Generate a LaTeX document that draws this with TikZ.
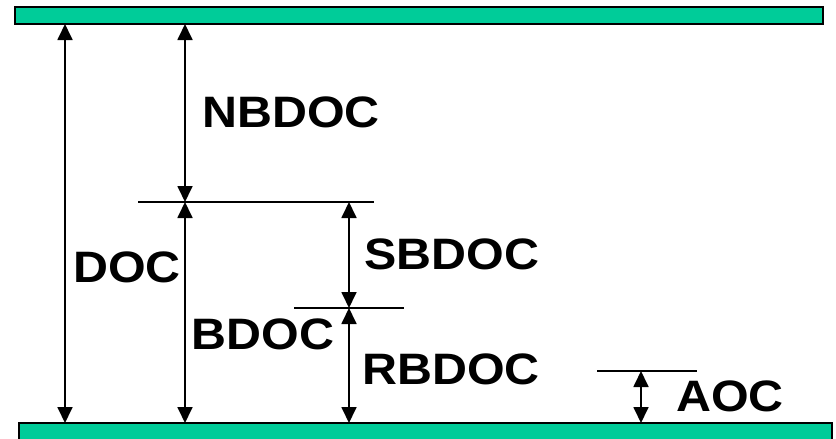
\documentclass[tikz,border=0pt]{standalone}
\usepackage{fontspec}
\setmainfont{Liberation Sans}
\newfontfamily\labelfont[FakeStretch=1.1]{Liberation Sans}
\usetikzlibrary{arrows.meta}
\definecolor{plate}{RGB}{0,204,153}

\begin{document}
\begin{tikzpicture}[x=1pt, y=-1pt, line width=1.8pt,
    every node/.style={font=\labelfont\bfseries\fontsize{44}{44}\selectfont, inner sep=0pt},
    >={Triangle[length=16pt,width=15pt]},
    dim/.style={<->}]
    \useasboundingbox (0,0) rectangle (836,439);

    % Plates
    \draw[fill=plate, line width=2pt] (15,7) rectangle (823,24);
    \draw[fill=plate, line width=2pt] (19,423) rectangle (832,440);

    % Reference levels
    \coordinate (topA) at (65,24);   \coordinate (botA) at (65,423);
    \coordinate (topB) at (185,24);  \coordinate (midB) at (185,202);
    \coordinate (botB) at (185,423);
    \coordinate (midS) at (349,202); \coordinate (lowS) at (349,308);
    \coordinate (botS) at (349,423);
    \coordinate (topC) at (641,371); \coordinate (botC) at (641,423);

    \draw (138,202) -- (374,202);
    \draw (294,308) -- (404,308);
    \draw (597,371) -- (697,371);

    % Dimension arrows
    \draw[dim] (topA) -- (botA);
    \draw[dim] (topB) -- (midB);
    \draw[dim] (midB) -- (botB);
    \draw[dim] (midS) -- (lowS);
    \draw[dim] (lowS) -- (botS);
    \draw[dim] (topC) -- (botC);

    % Labels
    \node (nbdoc) at (291,112) {NBDOC};
    \node (doc)   at (127,267) {DOC};
    \node (sbdoc) at (452,254) {SBDOC};
    \node (bdoc)  at (263,334) {BDOC};
    \node (rbdoc) at (451,369) {RBDOC};
    \node (aoc)   at (730,396) {AOC};
\end{tikzpicture}
\end{document}
